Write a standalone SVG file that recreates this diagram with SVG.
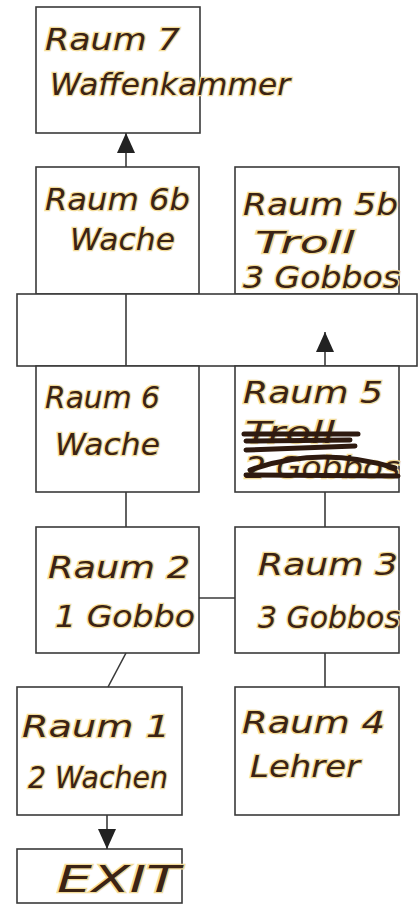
<svg xmlns="http://www.w3.org/2000/svg" width="420" height="904" viewBox="0 0 420 904">
<style>
.box{fill:#fff;stroke:#3a3a3a;stroke-width:1.6}
.ln{fill:none;stroke:#3a3a3a;stroke-width:1.6}
.hw{font-family:"DejaVu Sans","Liberation Sans",sans-serif;font-style:oblique;fill:#3b2314;stroke:#f3dc9a;stroke-width:2.5;paint-order:stroke;font-size:30px}
.strike{fill:none;stroke:#2e1a10;stroke-width:5;stroke-linecap:round}
</style>
<defs>
<marker id="ah" viewBox="0 0 20 18" refX="20" refY="9" markerWidth="20" markerHeight="18" markerUnits="userSpaceOnUse" orient="auto">
<path d="M0,0 L20,9 L0,18 Z" fill="#222"/>
</marker>
</defs>
<rect width="420" height="904" fill="#fff"/>
<g id="raum7">
<rect class="box" x="36" y="7" width="164" height="126"/>
<text class="hw" x="45" y="50" textLength="135" lengthAdjust="spacingAndGlyphs">Raum 7</text>
<text class="hw" x="50" y="95" textLength="240" lengthAdjust="spacingAndGlyphs">Waffenkammer</text>
</g>
<g id="raum6b">
<rect class="box" x="36" y="167" width="163" height="127"/>
<text class="hw" x="45" y="210" textLength="145" lengthAdjust="spacingAndGlyphs">Raum 6b</text>
<text class="hw" x="70" y="250" textLength="105" lengthAdjust="spacingAndGlyphs">Wache</text>
</g>
<g id="raum5b">
<rect class="box" x="235" y="167" width="164" height="127"/>
<text class="hw" x="243" y="215" textLength="155" lengthAdjust="spacingAndGlyphs">Raum 5b</text>
<text class="hw" x="255" y="253" textLength="100" lengthAdjust="spacingAndGlyphs">Troll</text>
<text class="hw" x="243" y="288" textLength="157" lengthAdjust="spacingAndGlyphs">3 Gobbos</text>
</g>
<g id="korridor">
<rect class="box" x="17" y="294" width="400" height="72"/>
<line class="ln" x1="126" y1="294" x2="126" y2="366"/>
</g>
<g id="raum6">
<rect class="box" x="36" y="366" width="163" height="126"/>
<text class="hw" x="45" y="408" textLength="115" lengthAdjust="spacingAndGlyphs">Raum 6</text>
<text class="hw" x="55" y="455" textLength="105" lengthAdjust="spacingAndGlyphs">Wache</text>
</g>
<g id="raum5">
<rect class="box" x="235" y="366" width="164" height="126"/>
<text class="hw" x="243" y="403" textLength="140" lengthAdjust="spacingAndGlyphs">Raum 5</text>
<text class="hw" x="245" y="443" textLength="90" lengthAdjust="spacingAndGlyphs">Troll</text>
<text class="hw" x="245" y="478" textLength="155" lengthAdjust="spacingAndGlyphs">2 Gobbos</text>
<path class="strike" d="M244,434 L358,434 M246,441 L350,440 M246,450 L355,446 M250,470 Q320,445 395,468 M246,475 L398,476"/>
</g>
<g id="raum2">
<rect class="box" x="36" y="527" width="163" height="126"/>
<text class="hw" x="48" y="578" textLength="142" lengthAdjust="spacingAndGlyphs">Raum 2</text>
<text class="hw" x="55" y="627" textLength="140" lengthAdjust="spacingAndGlyphs">1 Gobbo</text>
</g>
<g id="raum3">
<rect class="box" x="235" y="527" width="164" height="126"/>
<text class="hw" x="258" y="575" textLength="140" lengthAdjust="spacingAndGlyphs">Raum 3</text>
<text class="hw" x="258" y="628" textLength="142" lengthAdjust="spacingAndGlyphs">3 Gobbos</text>
</g>
<g id="raum1">
<rect class="box" x="17" y="687" width="165" height="128"/>
<text class="hw" x="22" y="737" textLength="148" lengthAdjust="spacingAndGlyphs">Raum 1</text>
<text class="hw" x="28" y="788" textLength="140" lengthAdjust="spacingAndGlyphs">2 Wachen</text>
</g>
<g id="raum4">
<rect class="box" x="235" y="687" width="164" height="128"/>
<text class="hw" x="242" y="733" textLength="143" lengthAdjust="spacingAndGlyphs">Raum 4</text>
<text class="hw" x="250" y="777" textLength="110" lengthAdjust="spacingAndGlyphs">Lehrer</text>
</g>
<g id="exit">
<rect class="box" x="17" y="849" width="165" height="54"/>
<text class="hw" x="57" y="892" textLength="123" lengthAdjust="spacingAndGlyphs" style="font-size:37px">EXIT</text>
</g>
<g id="connectors">
<line class="ln" x1="126" y1="167" x2="126" y2="133" marker-end="url(#ah)"/>
<line class="ln" x1="325" y1="366" x2="325" y2="332" marker-end="url(#ah)"/>
<line class="ln" x1="126" y1="492" x2="126" y2="527"/>
<line class="ln" x1="325" y1="492" x2="325" y2="527"/>
<line class="ln" x1="199" y1="598" x2="235" y2="598"/>
<line class="ln" x1="126" y1="653" x2="108" y2="687"/>
<line class="ln" x1="325" y1="653" x2="325" y2="687"/>
<line class="ln" x1="107" y1="815" x2="107" y2="849" marker-end="url(#ah)"/>
</g>
</svg>
